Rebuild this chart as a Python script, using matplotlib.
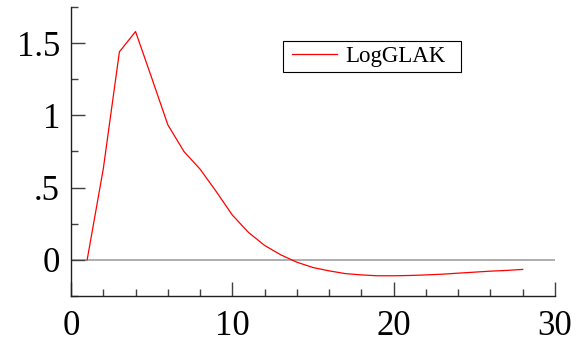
import numpy as np
import matplotlib
matplotlib.use("Agg")
import matplotlib.pyplot as plt
from matplotlib.ticker import MultipleLocator, FuncFormatter
from matplotlib.patches import Rectangle

# impulse response
steps = list(range(1, 29))
loglak = [0.0, 0.63, 1.44, 1.58, 1.26, 0.935, 0.75, 0.628, 0.473, 0.31,
          0.19, 0.10, 0.035, -0.016, -0.053, -0.076, -0.095, -0.104, -0.11, -0.11,
          -0.108, -0.104, -0.099, -0.092, -0.085, -0.078, -0.073, -0.066]
series_name = "LogGLAK"

plt.rcParams['font.family'] = ['Liberation Serif', 'DejaVu Serif']

fig = plt.figure(figsize=(5.85, 3.46), dpi=100)
ax = fig.add_axes([0.1214, 0.1445, 0.8273, 0.8353])

ax.axhline(0, color='#a8a8a8', lw=1.3, zorder=1)
ax.plot(steps, loglak, color='red', lw=0.9, label=series_name, zorder=2)

ax.set_xlim(0, 30)
ax.set_ylim(-0.25, 1.75)

ax.xaxis.set_major_locator(MultipleLocator(10))
ax.xaxis.set_minor_locator(MultipleLocator(2))
ax.yaxis.set_major_locator(MultipleLocator(0.5))
ax.yaxis.set_minor_locator(MultipleLocator(0.25))

def ylab(v, pos):
    if abs(v) < 1e-9:
        return "0"
    s = ("%g" % v)
    if s.startswith("0."):
        s = s[1:]
    return s

ax.yaxis.set_major_formatter(FuncFormatter(ylab))

for s in ['top', 'right']:
    ax.spines[s].set_visible(False)
for s in ['left', 'bottom']:
    ax.spines[s].set_linewidth(1.0)
    ax.spines[s].set_color('#202020')

ax.tick_params(which='major', direction='in', length=10, width=1.0,
               color='#404040', labelsize=25, pad=8)
ax.tick_params(axis='x', which='major', pad=10)
ax.tick_params(which='minor', direction='in', length=5, width=1.0, color='#404040')

# legend entries without frame, box drawn separately (wider right margin like the original)
leg = ax.legend(loc='center left', bbox_to_anchor=(0.4566, 0.829), fontsize=16.5,
                frameon=False, handlelength=1.96, handletextpad=0.35,
                borderpad=0, borderaxespad=0)
ax.add_patch(Rectangle((0.438, 0.775), 0.368, 0.107, transform=ax.transAxes,
                       fill=False, edgecolor='black', lw=0.8, zorder=5))

fig.savefig("out.png", dpi=100)
